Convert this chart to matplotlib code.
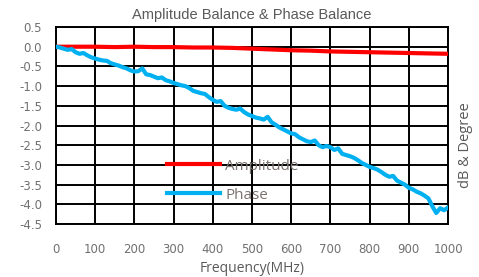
import matplotlib
matplotlib.use("Agg")
import matplotlib.pyplot as plt

# frequency grid (MHz) for the phase trace, 10 MHz steps
freq_phase = list(range(0, 1001, 10))
phase = [
    0.00, -0.02, -0.05, -0.08, -0.06, -0.14, -0.18, -0.16, -0.22, -0.27,
    -0.30, -0.33, -0.35, -0.36, -0.42, -0.45, -0.48, -0.52, -0.55, -0.60,
    -0.63, -0.62, -0.55, -0.70, -0.72, -0.76, -0.80, -0.78, -0.85, -0.88,
    -0.92, -0.95, -0.98, -1.00, -1.05, -1.12, -1.15, -1.18, -1.20, -1.28,
    -1.35, -1.40, -1.38, -1.50, -1.55, -1.58, -1.60, -1.57, -1.66, -1.72,
    -1.76, -1.80, -1.82, -1.85, -1.78, -1.92, -1.98, -2.05, -2.10, -2.15,
    -2.20, -2.22, -2.30, -2.35, -2.40, -2.42, -2.38, -2.50, -2.55, -2.52,
    -2.55, -2.62, -2.58, -2.72, -2.75, -2.78, -2.82, -2.88, -2.95, -3.00,
    -3.05, -3.08, -3.12, -3.18, -3.25, -3.30, -3.28, -3.40, -3.45, -3.50,
    -3.58, -3.62, -3.68, -3.72, -3.78, -3.85, -4.05, -4.22, -4.10, -4.15,
    -4.08,
]

freq_amp = list(range(0, 1001, 50))
amplitude = [
    0.00, 0.00, 0.00, -0.01, 0.00, -0.01, -0.01, -0.02, -0.02, -0.03,
    -0.05, -0.07, -0.09, -0.10, -0.12, -0.13, -0.14, -0.15, -0.16, -0.17,
    -0.18,
]

x_ticks = list(range(0, 1001, 100))
y_ticks = [0.5, 0.0, -0.5, -1.0, -1.5, -2.0, -2.5, -3.0, -3.5, -4.0, -4.5]
y_labels = ["0.5", "0.0", "-0.5", "-1.0", "-1.5", "-2.0", "-2.5", "-3.0", "-3.5", "-4.0", "-4.5"]

tick_color = "#707070"
text_color = "#595959"

fig = plt.figure(figsize=(4.79, 2.77), dpi=100)
ax = fig.add_axes([0.1169, 0.1913, 0.8184, 0.7112])

ax.plot(freq_amp, amplitude, color="#ff0000", linewidth=3, label="Amplitude", zorder=3)
ax.plot(freq_phase, phase, color="#00b0f0", linewidth=3, label="Phase", zorder=3)

ax.set_xlim(0, 1000)
ax.set_ylim(-4.5, 0.5)
ax.set_xticks(x_ticks)
ax.set_yticks(y_ticks)
ax.set_yticklabels(y_labels)
ax.grid(True, color="#000000", linewidth=1.4)
ax.set_axisbelow(True)
for s in ax.spines.values():
    s.set_color("#000000")
    s.set_linewidth(1.4)
ax.tick_params(length=0, labelsize=8.5, labelcolor=tick_color)
ax.tick_params(axis="x", pad=14)
ax.tick_params(axis="y", pad=10)

ax.set_title("Amplitude Balance & Phase Balance", fontsize=10.5, color=text_color, pad=6,
             family="Liberation Sans")
ax.set_xlabel("Frequency(MHz)", fontsize=10, color=text_color, labelpad=3,
              family="Open Sans")
ax.yaxis.set_label_position("right")
ax.set_ylabel("dB & Degree", fontsize=10.5, color=text_color, family="Open Sans")
ax.yaxis.set_label_coords(1.025, 0.40)

ax.legend(loc="center left", bbox_to_anchor=(0.283, 0.22), frameon=False,
          borderaxespad=0, borderpad=0,
          handlelength=3.45, handletextpad=0.37, labelspacing=0.9,
          prop={"family": "Open Sans", "size": 11}, labelcolor="#7a7370")

fig.savefig("out.png", dpi=100)
plt.close(fig)
